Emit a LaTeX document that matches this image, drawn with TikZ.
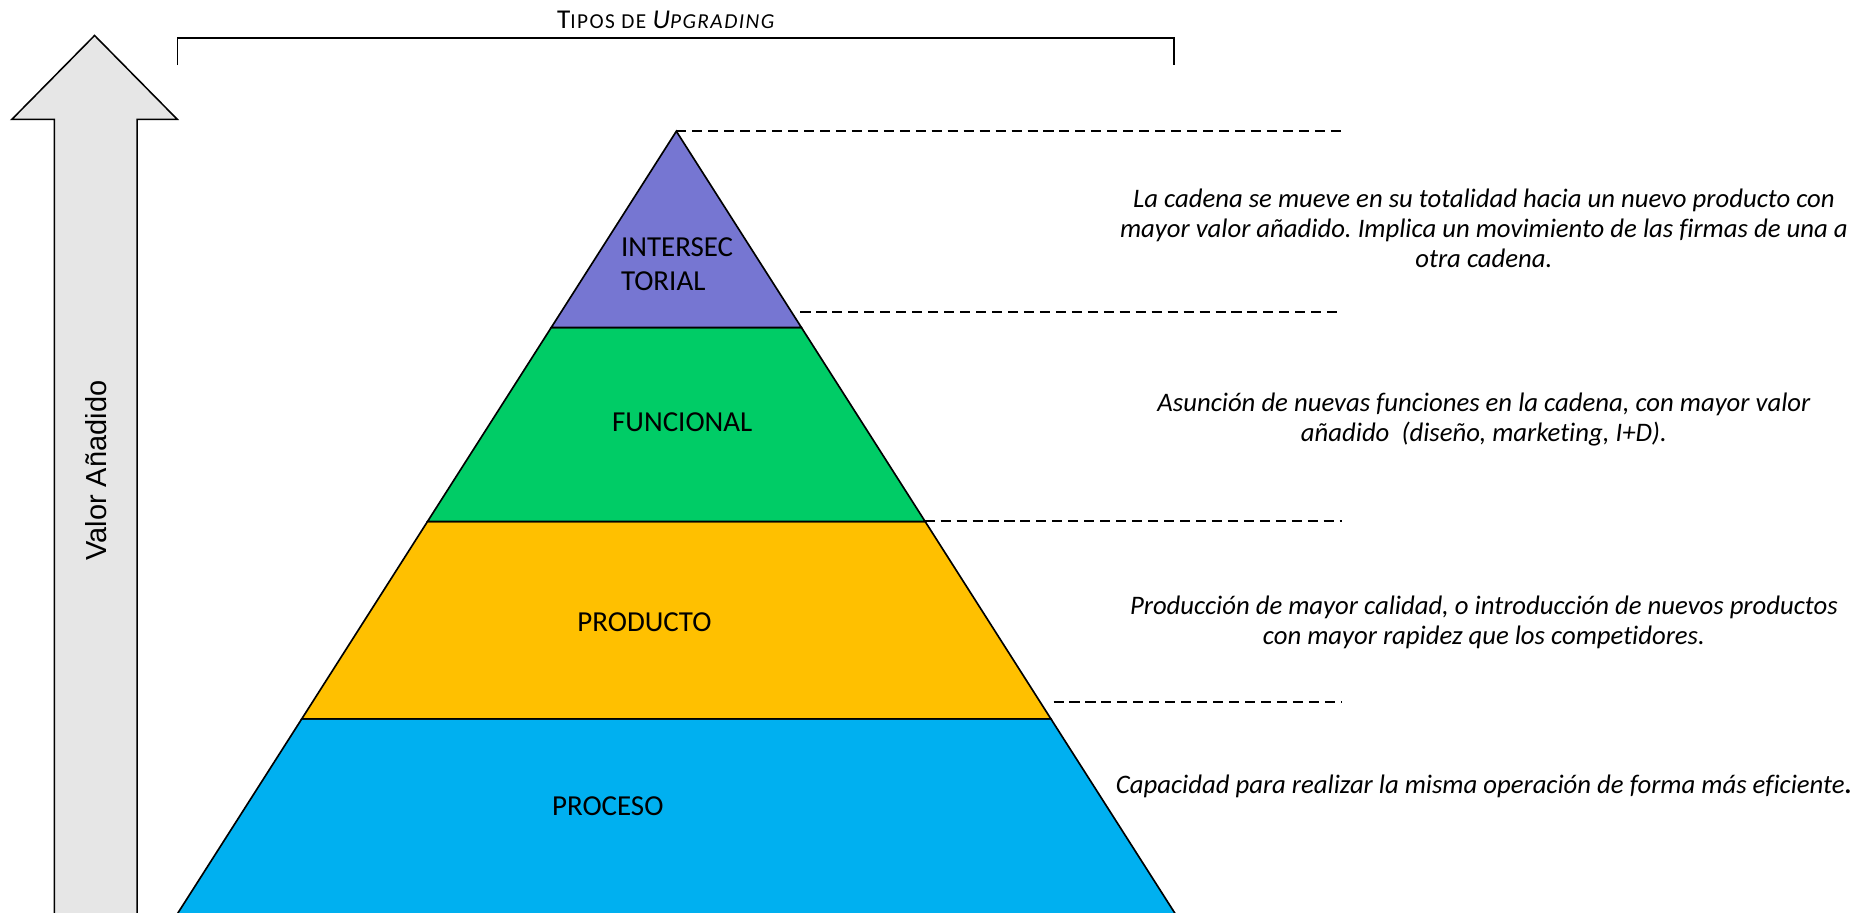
\documentclass[tikz,border=0pt]{standalone}
\usepackage{fontspec}
\setmainfont{Carlito}[Ligatures=NoCommon]
\newfontfamily\arialf{Liberation Sans}
\definecolor{purplelayer}{RGB}{118,118,210}
\definecolor{greenlayer}{RGB}{0,204,102}
\definecolor{orangelayer}{RGB}{255,192,0}
\definecolor{bluelayer}{RGB}{0,176,240}
\definecolor{arrowgray}{RGB}{230,230,230}
\frenchspacing
\tikzset{
  layer/.style={draw=black, line width=1.4pt, line join=miter},
  guide/.style={draw=black, line width=1.3pt, dash pattern=on 8.5pt off 5pt},
  layerlabel/.style={inner sep=0pt, font=\fontsize{24.5}{29}\selectfont},
  desc/.style={inner sep=0pt, align=center, font=\fontsize{22.6}{25.5}\selectfont\itshape},
}
\newcommand{\ttlbig}[1]{{\fontsize{23}{25}\selectfont #1}}
\newcommand{\ttlsmall}[1]{{\fontsize{18}{25}\selectfont #1}}
\begin{document}
\begin{tikzpicture}[x=1pt,y=-1pt]
\useasboundingbox (0,0) rectangle (1568,772);
\clip (0,0) rectangle (1568,772);
% value-added arrow
\draw[fill=arrowgray, line width=1.3pt, line join=miter]
  (80,30) -- (150,101) -- (116,101) -- (116,800) -- (46,800) -- (46,101) -- (10,101) -- cycle;
\node[rotate=90, inner sep=0pt, font=\arialf\fontsize{24.5}{29}\selectfont] (va) at (81,398) {Valor Añadido};
% title and bracket
\node[inner sep=0pt, anchor=base, font=\fontsize{18}{25}\selectfont] (title) at (563,24)
  {\addfontfeature{LetterSpace=7}\ttlbig{T}\ttlsmall{IPOS DE }{\itshape\ttlbig{U}\ttlsmall{PGRADING}}};
\draw[line width=1.3pt] (150,55) -- (150,32) -- (993,32) -- (993,55);
% pyramid layers
\coordinate (apex) at (572,111);
\coordinate (l1) at (466.2,277); \coordinate (r1) at (677.8,277);
\coordinate (l2) at (361.6,441); \coordinate (r2) at (782.4,441);
\coordinate (l3) at (255.2,608); \coordinate (r3) at (888.8,608);
\coordinate (l4) at (132.7,800); \coordinate (r4) at (1011.3,800);
\draw[layer, fill=bluelayer] (l3) -- (r3) -- (r4) -- (l4) -- cycle;
\draw[layer, fill=orangelayer] (l2) -- (r2) -- (r3) -- (l3) -- cycle;
\draw[layer, fill=greenlayer] (l1) -- (r1) -- (r2) -- (l2) -- cycle;
\draw[layer, fill=purplelayer] (apex) -- (r1) -- (l1) -- cycle;
% layer labels
\node[layerlabel, anchor=base west, align=left] (inter) at (525,246) {INTERSEC\\TORIAL};
\node[layerlabel] (func) at (577,357) {FUNCIONAL};
\node[layerlabel] (prod) at (545,526) {PRODUCTO};
\node[layerlabel] (proc) at (514,682) {PROCESO};
% guide lines
\coordinate (g0) at (1135,111);
\coordinate (s1) at (677,264); \coordinate (g1) at (1135,264);
\coordinate (s2) at (782,440.83); \coordinate (g2) at (1135,440.83);
\coordinate (s3) at (891,593.9); \coordinate (g3) at (1135,593.9);
\draw[guide] (apex) -- (g0);
\draw[guide] (s1) -- (g1);
\draw[guide] (s2) -- (g2);
\draw[guide] (s3) -- (g3);
% descriptions
\node[desc] (d1) at (1255,193) {La cadena se mueve en su totalidad hacia un nuevo producto con\\mayor valor añadido. Implica un movimiento de las firmas de una a\\otra cadena.};
\node[desc] (d2) at (1255,355) {Asunción de nuevas funciones en la cadena, con mayor valor\\añadido~ (diseño, marketing, I+D).};
\node[desc] (d3) at (1255,526) {Producción de mayor calidad, o introducción de nuevos productos\\con mayor rapidez que los competidores.};
\node[desc] (d4) at (1255,665) {Capacidad para realizar la misma operación de forma más eficiente\textbf{.}};
\end{tikzpicture}
\end{document}
